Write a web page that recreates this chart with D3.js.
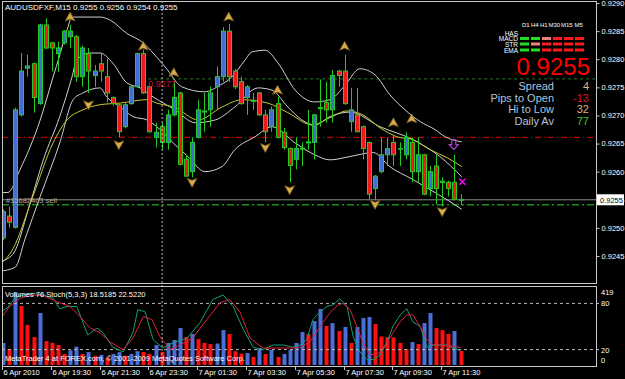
<!DOCTYPE html>
<html><head><meta charset="utf-8">
<script src="https://d3js.org/d3.v7.min.js"></script>
<style>
body{margin:0;background:#000;}
svg{display:block;font-family:"Liberation Sans",Arial,sans-serif;}
</style></head><body>
<svg id="chart" width="625" height="379"></svg>
<script>
// AUDUSDFXF M15, first bar 6 Apr 17:30
const opens  = [0.92482,0.92521,0.92501,0.92701,0.92784,0.92792,0.92721,0.92861,0.92829,0.92810,0.92829,0.92840,0.92840,0.92769,0.92810,0.92771,0.92792,0.92769,0.92732,0.92719,0.92680,0.92721,0.92751,0.92810,0.92751,0.92661,0.92680,0.92652,0.92701,0.92740,0.92622,0.92600,0.92661,0.92706,0.92710,0.92751,0.92769,0.92850,0.92779,0.92760,0.92732,0.92725,0.92740,0.92701,0.92680,0.92721,0.92670,0.92641,0.92622,0.92640,0.92651,0.92652,0.92712,0.92723,0.92710,0.92779,0.92779,0.92689,0.92701,0.92680,0.92652,0.92570,0.92600,0.92630,0.92652,0.92640,0.92630,0.92652,0.92600,0.92630,0.92570,0.92610,0.92583,0.92581,0.92581,0.9255];
const highs  = [0.92533,0.92538,0.92714,0.92811,0.92808,0.92794,0.92863,0.92873,0.92831,0.92831,0.92852,0.92861,0.92843,0.92824,0.92820,0.92790,0.92810,0.92801,0.92734,0.92720,0.92723,0.92754,0.92812,0.92817,0.92753,0.92687,0.92687,0.92710,0.92760,0.92742,0.92630,0.92661,0.92728,0.92740,0.92751,0.92787,0.92857,0.92863,0.92783,0.92769,0.92754,0.92740,0.92742,0.92710,0.92716,0.92733,0.92678,0.92643,0.92661,0.92652,0.92710,0.92703,0.92764,0.92760,0.92781,0.92781,0.92808,0.92749,0.92749,0.92682,0.92654,0.92594,0.92661,0.92661,0.92666,0.92652,0.92670,0.92661,0.92661,0.92632,0.92610,0.92630,0.92590,0.92584,0.92630,0.9256];
const lows   = [0.92478,0.92501,0.92499,0.92698,0.92769,0.92705,0.92719,0.92818,0.92778,0.92778,0.92826,0.92820,0.92760,0.92751,0.92740,0.92751,0.92760,0.92723,0.92717,0.92661,0.92677,0.92719,0.92749,0.92738,0.92669,0.92643,0.92639,0.92639,0.92698,0.92611,0.92593,0.92590,0.92659,0.92671,0.92680,0.92710,0.92760,0.92760,0.92747,0.92719,0.92701,0.92710,0.92699,0.92652,0.92671,0.92659,0.92639,0.92581,0.92604,0.92610,0.92639,0.92622,0.92680,0.92687,0.92687,0.92751,0.92719,0.92671,0.92670,0.92622,0.92551,0.92549,0.92597,0.92610,0.92610,0.92610,0.92622,0.92581,0.92581,0.92558,0.92556,0.92542,0.92538,0.92556,0.92549,0.9254];
const closes = [0.92529,0.92510,0.92710,0.92779,0.92788,0.92732,0.92861,0.92820,0.92820,0.92820,0.92850,0.92850,0.92769,0.92820,0.92779,0.92779,0.92779,0.92740,0.92721,0.92671,0.92719,0.92751,0.92810,0.92740,0.92671,0.92670,0.92652,0.92701,0.92732,0.92613,0.92592,0.92652,0.92710,0.92708,0.92740,0.92769,0.92850,0.92769,0.92751,0.92721,0.92751,0.92727,0.92701,0.92671,0.92710,0.92661,0.92643,0.92611,0.92641,0.92642,0.92653,0.92701,0.92714,0.92710,0.92771,0.92771,0.92721,0.92710,0.92671,0.92641,0.92560,0.92592,0.92630,0.92641,0.92630,0.92641,0.92661,0.92600,0.92630,0.92560,0.92600,0.92570,0.92581,0.92570,0.92551,0.9255];
const volumes = [120,87,397,321,218,152,283,130,120,109,60,80,100,60,70,50,55,40,60,70,50,60,75,71,60,109,71,120,136,201,152,169,141,120,114,117,190,169,75,62,65,44,92,60,82,44,60,82,120,180,169,239,305,212,228,185,207,120,207,256,261,223,155,152,150,120,87,125,114,228,283,201,190,169,185,76];

// indicator lines: [bar, price]
const bbUpper = [[-0.5,0.92563],[0.8,0.92563],[2.8,0.92604],[6.1,0.92692],[8.2,0.92768],[9.3,0.92807],[10.5,0.92852],[11.3,0.92875],[15.9,0.92875],[17.5,0.92870],[20.3,0.92846],[23,0.92829],[24.6,0.92811],[26.6,0.92786],[29.3,0.92751],[33.1,0.92742],[35.6,0.92754],[37.5,0.92768],[39.7,0.92799],[40.8,0.92813],[43,0.92816],[45.1,0.92793],[47.9,0.92745],[51.1,0.92724],[53.6,0.92728],[56.1,0.92754],[58.5,0.92783],[61,0.92772],[63.4,0.92737],[65.9,0.92710],[68.4,0.92689],[70.8,0.92675],[72.5,0.92662],[75.2,0.92653]];
const bbMiddle = [[-0.5,0.92440],[1.6,0.92453],[4.4,0.92542],[6.6,0.92621],[9.3,0.92698],[11.3,0.92768],[12.1,0.92799],[14.3,0.92811],[15.9,0.92811],[18,0.92793],[20.3,0.92758],[22.5,0.92749],[24.6,0.92733],[28.2,0.92710],[31.5,0.92687],[34.8,0.92692],[38,0.92715],[41.8,0.92749],[44.1,0.92745],[46.7,0.92715],[49,0.92692],[51.1,0.92683],[53.6,0.92698],[56.9,0.92706],[61.8,0.92680],[67.2,0.92657],[71.6,0.92627],[75.2,0.92591]];
const bbLower = [[-0.5,0.92423],[2,0.92430],[3.6,0.92480],[6.1,0.92556],[9.3,0.92651],[11.5,0.92728],[13.1,0.92740],[15.9,0.92749],[17,0.92733],[19.2,0.92715],[21.3,0.92698],[23.6,0.92692],[25.2,0.92680],[28.2,0.92648],[30.3,0.92627],[33.1,0.92600],[35.9,0.92609],[38,0.92639],[41.3,0.92662],[44.1,0.92680],[47.9,0.92651],[51.1,0.92630],[53.6,0.92621],[56.9,0.92627],[60.7,0.92634],[63.4,0.92609],[67.2,0.92586],[70,0.92568],[72.8,0.92550],[75.2,0.92533]];
const maLine = [[-0.5,0.92435],[1.6,0.92462],[4.9,0.92556],[8.2,0.92651],[10.5,0.92692],[13.1,0.92710],[15.9,0.92719],[19.2,0.92722],[23.6,0.92728],[25.2,0.92722],[28.2,0.92714],[32,0.92692],[35.9,0.92715],[39.2,0.92728],[43.4,0.92722],[46.7,0.92705],[50.7,0.92683],[53.6,0.92696],[56.4,0.92708],[59,0.92701],[61.8,0.92678],[64.6,0.92662],[67.2,0.92657],[70,0.92639],[72.8,0.92625],[75.2,0.92609]];

// Stoch(5,3,3): [bar, value]
const stochMain = [[-0.5,69],[0.7,74],[2,87],[3.3,91],[4.9,93],[6.6,91],[8.2,87],[9.3,73],[10.5,76],[12.1,76],[13.9,39],[15.4,48],[16.4,42],[18,23],[19.7,17],[21.3,42],[22.1,72],[23.3,69],[24.6,33],[26.2,22],[27.9,29],[30.2,35],[32.3,55],[34.4,85],[36.1,91],[37.7,76],[39.3,48],[41,23],[42.6,20],[44.3,26],[45.9,26],[47.5,23],[48.7,26],[49.8,33],[50.8,59],[52,69],[53.1,76],[54.1,78],[55.2,86],[56.4,76],[57.4,37],[58.5,17],[59.7,7],[60.7,7],[61.8,13],[63,30],[63.9,50],[65.1,65],[66.2,73],[67.2,56],[68.4,50],[69.5,23],[70.5,26],[72.8,26],[73.8,22],[75,18.5]];
const stochSignal = [[-0.5,59],[1.1,76],[2.8,87],[4.9,91],[6.6,90],[8.9,82],[11,76],[12.6,63],[14.3,48],[15.9,42],[17.5,30],[19.7,20],[21.3,35],[23,63],[24.4,59],[25.7,37],[27.4,20],[29,26],[31.1,35],[33.4,59],[35.6,81],[37.2,85],[38.9,68],[40.5,35],[42.6,22],[44.9,22],[47,22],[48.7,23],[50.3,30],[52,50],[53.6,68],[54.8,77],[55.7,80],[56.9,72],[58,50],[59,29],[60.2,13],[61.8,16],[63.4,35],[65.1,56],[66.2,65],[67.2,65],[68.4,50],[69.5,33],[70.5,26],[71.6,26],[73.3,25],[75,22.5]];

// fractal arrows: [bar, price]
const fractalsUp = [[11,0.92875],[23,0.92823],[28,0.92776],[37,0.92875],[45,0.92745],[56,0.92823],[64,0.92687],[67,0.92694]];
const fractalsDown = [[14,0.92719],[19,0.92648],[31,0.92581],[43,0.92643],[47,0.92568],[61,0.92542],[72,0.92529]];

const priceTicks = [0.9290,0.9285,0.9280,0.9275,0.9270,0.9265,0.9260,0.9255,0.9250,0.9245];
const timeTickBars = [0,8,16,24,32,40,48,56,64,72];
const timeTickLabels = ["6 Apr 2010","6 Apr 19:30","6 Apr 21:30","6 Apr 23:30","7 Apr 01:30","7 Apr 03:30","7 Apr 05:30","7 Apr 07:30","7 Apr 09:30","7 Apr 11:30"];

const bidPrice = 0.9255, orderPrice = 0.92542, redLevel = 0.92661, greenLevel = 0.92765;
const daySeparatorBar = 26;

const tfLabels = ["D1","H4","H1","M30","M15","M5"];
const signalRows = ["HAS","MACD","STR","EMA"];
const signalStates = [
  ["n","n","n","n","n","n"],
  ["g","g","s","r","r","r"],
  ["g","s","r","r","r","r"],
  ["g","g","r","r","r","r"]
];
const statLabels = ["Spread","Pips to Open","Hi to Low","Daily Av"];
const statValues = ["4","-13","32","77"];
const statColors = ["#d2b48c","#dc143c","#d2b48c","#32cd32"];

// ---- layout
const svg = d3.select("#chart");
const left = 2, right = 596, mainTop = 1, mainBottom = 283, subTop = 286, subBottom = 366;

const x = d3.scaleLinear().domain([0, 75]).range([3, 460.5]);
const y = d3.scaleLinear().domain([0.9245, 0.9290]).range([256, 3]);
const yStoch = d3.scaleLinear().domain([0, 100]).range([365, 288]);
const yVol = d3.scaleLinear().domain([0, 419]).range([365, 288]);

svg.append("rect").attr("width", 625).attr("height", 379).attr("fill", "#000");

svg.append("clipPath").attr("id", "mc").append("rect")
  .attr("x", left).attr("y", mainTop).attr("width", right - left).attr("height", mainBottom - mainTop);
svg.append("clipPath").attr("id", "sc").append("rect")
  .attr("x", left).attr("y", subTop).attr("width", right - left).attr("height", subBottom - subTop);

const main = svg.append("g").attr("clip-path", "url(#mc)");
const sub = svg.append("g").attr("clip-path", "url(#sc)");

// horizontal lines
main.append("line").attr("x1", left).attr("x2", right).attr("y1", y(redLevel)).attr("y2", y(redLevel))
  .attr("stroke", "#e00000").attr("stroke-dasharray", "6,3,1,3");
main.append("line").attr("x1", x(23.8)).attr("x2", right).attr("y1", y(greenLevel)).attr("y2", y(greenLevel))
  .attr("stroke", "#2a7a2a").attr("stroke-dasharray", "3,3");
main.append("line").attr("x1", left).attr("x2", right).attr("y1", y(orderPrice) + 0.5).attr("y2", y(orderPrice) + 0.5)
  .attr("stroke", "#1e8c1e").attr("stroke-width", 1.5).attr("stroke-dasharray", "7,3,2,3");
main.append("line").attr("x1", left).attr("x2", right).attr("y1", y(bidPrice)).attr("y2", y(bidPrice))
  .attr("stroke", "#8a8a8a");

// day separator
svg.append("line").attr("x1", x(daySeparatorBar) + 0.5).attr("x2", x(daySeparatorBar) + 0.5)
  .attr("y1", mainTop).attr("y2", subBottom)
  .attr("stroke", "#bbbbbb").attr("stroke-dasharray", "2,2");

// bands and MA
const bandLine = d3.line().x(d => x(d[0])).y(d => y(d[1])).curve(d3.curveMonotoneX);
[bbUpper, bbMiddle, bbLower].forEach(b => {
  main.append("path").attr("d", bandLine(b)).attr("fill", "none").attr("stroke", "#d0d0d0").attr("stroke-width", 1);
});
main.append("path").attr("d", bandLine(maLine)).attr("fill", "none").attr("stroke", "#c8c832").attr("stroke-width", 1);

// candles
const bars = d3.range(opens.length);
main.selectAll("line.wick").data(bars).enter().append("line")
  .attr("x1", i => Math.round(x(i)) + 0.5).attr("x2", i => Math.round(x(i)) + 0.5)
  .attr("y1", i => y(highs[i])).attr("y2", i => y(lows[i]))
  .attr("stroke", "#22cc22");
main.selectAll("rect.body").data(bars).enter().append("rect")
  .attr("x", i => Math.round(x(i)) - 1.5)
  .attr("width", 4)
  .attr("y", i => y(Math.max(opens[i], closes[i])))
  .attr("height", i => Math.max(0.5, Math.abs(y(opens[i]) - y(closes[i]))))
  .attr("fill", i => closes[i] >= opens[i] ? "#3f6fd2" : "#f01818")
  .attr("stroke", "#22cc22").attr("stroke-width", 1);

// fractals
const upArrow = "M0,-5 L5,4 L0,2 L-5,4 Z";
const downArrow = "M0,5 L5,-4 L0,-2 L-5,-4 Z";
main.selectAll("path.fu").data(fractalsUp).enter().append("path")
  .attr("d", upArrow).attr("transform", d => `translate(${x(d[0])},${y(d[1])})`)
  .attr("fill", "#d9ac4a").attr("stroke", "#6e5418").attr("stroke-width", 0.8);
main.selectAll("path.fd").data(fractalsDown).enter().append("path")
  .attr("d", downArrow).attr("transform", d => `translate(${x(d[0])},${y(d[1])})`)
  .attr("fill", "#d9ac4a").attr("stroke", "#6e5418").attr("stroke-width", 0.8);

// purple signal arrow and magenta cross
main.append("path").attr("d", "M-2,-5 L2,-5 L2,0 L4.5,0 L0,5 L-4.5,0 L-2,0 Z")
  .attr("transform", `translate(${x(73.9)},${y(0.92648)})`)
  .attr("fill", "none").attr("stroke", "#b040d0").attr("stroke-width", 1.2);
main.append("path").attr("d", "M-3,-3 L3,3 M3,-3 L-3,3")
  .attr("transform", `translate(${x(75.3)},${y(0.92582)})`)
  .attr("stroke", "#ff00ff").attr("stroke-width", 1.5);

// texts in main window
main.append("text").attr("x", x(23.8)).attr("y", y(greenLevel) + 8)
  .attr("fill", "#c8143c").attr("font-size", 9).text("0.9277");
main.append("text").attr("x", 6).attr("y", y(orderPrice) - 1)
  .attr("fill", "#a8a8a8").attr("font-size", 7.5).text("#15682403 sell");
svg.append("text").attr("x", 5).attr("y", 10)
  .attr("fill", "#ffffff").attr("font-size", 8).text("AUDUSDFXF,M15  0.9255 0.9256 0.9254 0.9255");

// signal panel
const colX = j => 520 + j * 11;
const tfX = [522, 531, 540, 548.5, 561, 574.5];
svg.selectAll("text.tf").data(tfLabels).enter().append("text")
  .attr("x", (d, j) => tfX[j]).attr("y", 27)
  .attr("fill", "#ffffff").attr("font-size", 6).text(d => d);
const rowY = [33, 38.5, 44, 50];
svg.selectAll("text.row").data(signalRows).enter().append("text")
  .attr("x", 518).attr("y", (d, r) => rowY[r] + 2.5).attr("text-anchor", "end")
  .attr("fill", "#ffffff").attr("font-size", 6.5).text(d => d);
const stateColor = {g: "#22dd22", r: "#ff1a1a", s: "#f08080", n: "none"};
signalStates.forEach((row, r) => {
  row.forEach((s, j) => {
    if (s === "n") return;
    svg.append("rect").attr("x", colX(j)).attr("y", rowY[r] - 1.5).attr("width", 9).attr("height", 3)
      .attr("fill", stateColor[s]);
  });
});
svg.append("text").attr("x", 590).attr("y", 75).attr("text-anchor", "end")
  .attr("fill", "#ff0000").attr("font-size", 24).text(d3.format(".4f")(bidPrice));
statLabels.forEach((t, k) => {
  svg.append("text").attr("x", 554).attr("y", 90 + k * 11.5).attr("text-anchor", "end")
    .attr("fill", "#b0c4de").attr("font-size", 11).text(t);
  svg.append("text").attr("x", 589).attr("y", 90 + k * 11.5).attr("text-anchor", "end")
    .attr("fill", statColors[k]).attr("font-size", 11).text(statValues[k]);
});

// volumes
sub.selectAll("rect.vol").data(bars).enter().append("rect")
  .attr("x", i => Math.round(x(i)) - 1.5).attr("width", 4)
  .attr("y", i => yVol(volumes[i])).attr("height", i => yVol(0) - yVol(volumes[i]))
  .attr("fill", i => (i === 0 || volumes[i] > volumes[i - 1]) ? "#4a6fd8" : "#ff1010");

// stochastic levels and lines
[80, 20].forEach(l => {
  sub.append("line").attr("x1", left).attr("x2", right).attr("y1", yStoch(l)).attr("y2", yStoch(l))
    .attr("stroke", "#bbbbbb").attr("stroke-dasharray", "3,3");
});
const stLine = d3.line().x(d => x(d[0])).y(d => yStoch(d[1]));
sub.append("path").attr("d", stLine(stochMain)).attr("fill", "none").attr("stroke", "#10a070");
sub.append("path").attr("d", stLine(stochSignal)).attr("fill", "none").attr("stroke", "#e0203a");

svg.append("text").attr("x", 5).attr("y", 297).attr("fill", "#ffffff").attr("font-size", 7.5)
  .text("Volumes 76  Stoch(5,3,3) 18.5185 22.5220");
svg.append("text").attr("x", 5).attr("y", 361).attr("fill", "#ffffff").attr("font-size", 7.5)
  .text("MetaTrader 4 at FOREX.com, © 2001-2009 MetaQuotes Software Corp.");

// frames
svg.append("rect").attr("x", left + 0.5).attr("y", mainTop + 0.5).attr("width", right - left).attr("height", mainBottom - mainTop)
  .attr("fill", "none").attr("stroke", "#c8c8c8");
svg.append("rect").attr("x", left + 0.5).attr("y", subTop + 0.5).attr("width", right - left).attr("height", subBottom - subTop)
  .attr("fill", "none").attr("stroke", "#c8c8c8");

// price axis
const pAxis = svg.append("g").attr("transform", `translate(${right + 0.5},0)`)
  .call(d3.axisRight(y).tickValues(priceTicks).tickFormat(d3.format(".4f")).tickSize(3).tickPadding(2));
pAxis.select(".domain").remove();
pAxis.selectAll("line").attr("stroke", "#c8c8c8");
pAxis.selectAll("text").attr("fill", "#ffffff").attr("font-size", 7.5).attr("font-family", "Liberation Sans, Arial, sans-serif");

svg.append("rect").attr("x", 597).attr("y", y(bidPrice) - 5.5).attr("width", 27).attr("height", 11).attr("fill", "#ffffff");
svg.append("text").attr("x", 600).attr("y", y(bidPrice) + 3).attr("fill", "#000").attr("font-size", 7.5)
  .text(d3.format(".4f")(bidPrice));

// indicator axis labels
const subLabels = [["419", 295], ["80", yStoch(80) + 3], ["20", yStoch(20) + 3], ["0", 363]];
subLabels.forEach(([t, yy]) => {
  svg.append("text").attr("x", 601).attr("y", yy).attr("fill", "#ffffff").attr("font-size", 7.5).text(t);
});
[yStoch(80), yStoch(20)].forEach(yy => {
  svg.append("line").attr("x1", right).attr("x2", right + 3).attr("y1", yy).attr("y2", yy).attr("stroke", "#c8c8c8");
});

// time axis
timeTickBars.forEach((b, k) => {
  const tx = Math.round(x(b)) - 0.5;
  svg.append("line").attr("x1", tx).attr("x2", tx).attr("y1", subBottom).attr("y2", subBottom + 4).attr("stroke", "#c8c8c8");
  svg.append("text").attr("x", tx + 1).attr("y", 375).attr("fill", "#ffffff").attr("font-size", 7.5).text(timeTickLabels[k]);
});
</script>
</body></html>
